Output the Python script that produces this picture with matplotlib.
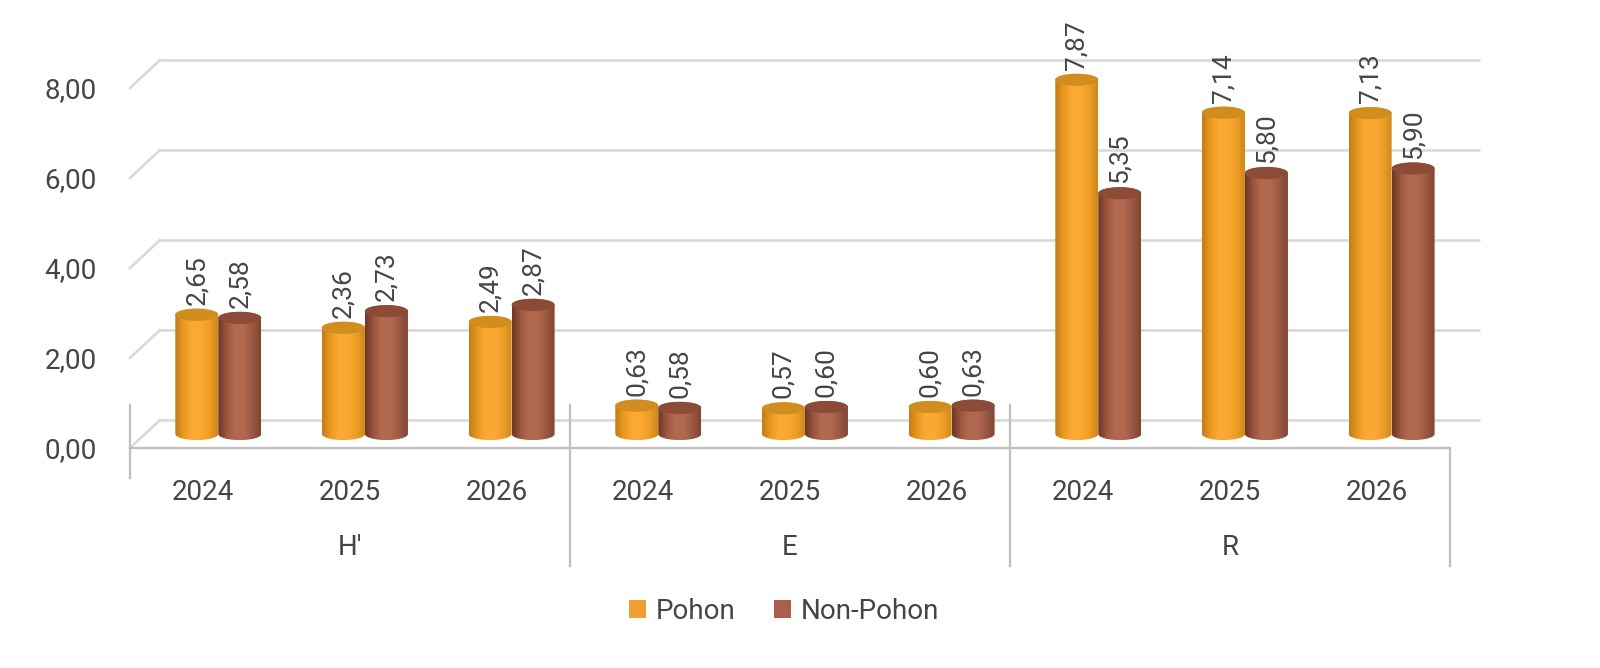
import numpy as np
import matplotlib
matplotlib.use("Agg")
import matplotlib.pyplot as plt
from matplotlib.patches import Polygon, Ellipse, Patch
from matplotlib.colors import LinearSegmentedColormap

plt.rcParams['font.family'] = ['Roboto', 'DejaVu Sans']

# data
groups = ["H'", "E", "R"]
years = ["2024", "2025", "2026"]
pohon = [2.65, 2.36, 2.49, 0.63, 0.57, 0.60, 7.87, 7.14, 7.13]
non_pohon = [2.58, 2.73, 2.87, 0.58, 0.60, 0.63, 5.35, 5.80, 5.90]
series_names = ["Pohon", "Non-Pohon"]
yticks = [0, 2, 4, 6, 8]

text_col = '#454545'
grid_col = '#D9D9D9'
axis_col = '#BFBFBF'

cmaps = [
    LinearSegmentedColormap.from_list('p', ['#C27C14', '#EA981F', '#FBAA34', '#FAA832', '#EE9E28', '#CC881C']),
    LinearSegmentedColormap.from_list('n', ['#6C3626', '#9C5640', '#B36A51', '#B06850', '#9C5844', '#804533']),
]
cap_cols = ['#D18D1E', '#8C4B37']
legend_cols = ['#F0A030', '#A8604A']

# 3D look: back wall offset and middle depth offset (in data units)
dxb, dyb = 0.2045, 0.622
dxm, dym = 0.102, 0.311
bw = 0.293      # width of one cylinder
eh = 0.27       # cap ellipse height

fig = plt.figure(figsize=(16, 6.68), dpi=100)
ax = fig.add_axes([0.08125, 0.12725, 0.825, 0.84207])
for s in ax.spines.values():
    s.set_visible(False)

# back wall gridlines with left perspective edges
for v in yticks:
    ax.plot([dxb, 9 + dxb], [v + dyb, v + dyb], color=grid_col, lw=1.9, zorder=1,
            solid_capstyle='butt', clip_on=False)
    ax.plot([0, dxb], [v, v + dyb], color=grid_col, lw=1.9, zorder=1, clip_on=False)

# front category axis and separators
ax.plot([0, 9], [0, 0], color=axis_col, lw=1.6, zorder=1, clip_on=False)
ax.plot([0, 0], [0.96, -0.67], color=axis_col, lw=1.6, zorder=1, clip_on=False)
for g in (3, 6):
    ax.plot([g, g], [0.96, -2.62], color=axis_col, lw=1.6, zorder=1, clip_on=False)
ax.plot([9, 9], [0, -2.62], color=axis_col, lw=1.6, zorder=1, clip_on=False)


def cylinder(xc, val, k, z):
    x0, x1 = xc - bw / 2, xc + bw / 2
    y0, y1 = dym, dym + val
    t_bot = np.linspace(np.pi, 2 * np.pi, 60)
    t_top = np.linspace(0, np.pi, 60)
    xs = np.concatenate([xc + bw / 2 * np.cos(t_bot), xc + bw / 2 * np.cos(t_top)])
    ys = np.concatenate([y0 + eh / 2 * np.sin(t_bot), y1 + eh / 2 * np.sin(t_top)])
    body = Polygon(np.column_stack([xs, ys]), closed=True, facecolor='none', edgecolor='none',
                   transform=ax.transData)
    ax.add_patch(body)
    grad = np.linspace(0, 1, 256).reshape(1, -1)
    im = ax.imshow(grad, extent=[x0, x1, y0 - eh, y1 + eh], aspect='auto', cmap=cmaps[k],
                   zorder=z, interpolation='bilinear')
    im.set_clip_path(body)
    ax.add_patch(Ellipse((xc, y1), bw, eh, facecolor=cap_cols[k], edgecolor='none', zorder=z + 0.1))


z = 3
for i in range(9):
    for k, vals in enumerate([pohon, non_pohon]):
        xc = i + 0.5 + (k - 0.5) * bw + dxm
        cylinder(xc, vals[i], k, z)
        ax.text(xc, vals[i] + dym + 0.22, f"{vals[i]:.2f}".replace('.', ','), rotation=90,
                ha='center', va='bottom', fontsize=19, color=text_col, zorder=20)
        z += 1

# category labels
for i in range(9):
    ax.text(i + 0.5, -1.0, years[i % 3], ha='center', va='center', fontsize=20, color=text_col)
for j, g in enumerate(groups):
    ax.text(3 * j + 1.5, -2.22, g, ha='center', va='center', fontsize=20, color=text_col)

ax.set_xlim(0, 9)
ax.set_ylim(-3, 9.5)
ax.set_xticks([])
ax.set_yticks(yticks)
ax.set_yticklabels([f"{v:.2f}".replace('.', ',') for v in yticks])
ax.tick_params(axis='y', length=0, pad=24, labelsize=20, labelcolor=text_col)

handles = [Patch(facecolor=c, edgecolor='none') for c in legend_cols]
fig.legend(handles, series_names, loc='center', bbox_to_anchor=(0.49, 0.085), ncol=2,
           frameon=False, fontsize=20, labelcolor=text_col, handlelength=0.6, handleheight=0.6,
           handletextpad=0.35, columnspacing=1.4)

fig.savefig('out.png', dpi=100)
